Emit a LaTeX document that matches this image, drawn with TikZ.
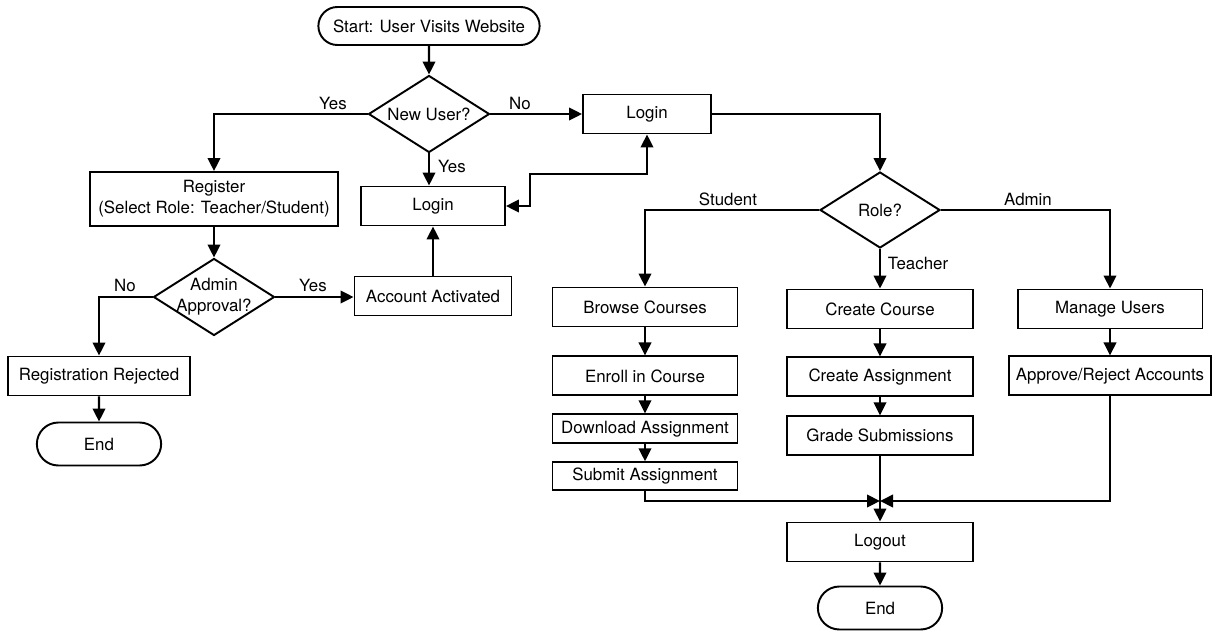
\documentclass[tikz,border=0pt]{standalone}
\usepackage{fontspec}
\setmainfont{TeX Gyre Heros}
\usetikzlibrary{arrows.meta,positioning,shapes.geometric,shapes.misc}
\newcommand{\fsz}{\fontsize{9.6}{12}\selectfont}
\tikzset{
 box/.style={draw,line width=1.1pt,align=center,minimum height=0.78cm,
             font=\fsz,inner sep=2pt},
 term/.style={draw,line width=1.1pt,rounded rectangle,minimum height=0.86cm,
              font=\fsz},
 decide/.style={draw,line width=1.1pt,diamond,aspect=1.57,inner sep=0pt,
                minimum width=2.42cm,minimum height=1.54cm,font=\fsz,align=center},
 arrow/.style={->,line width=1.2pt},
 dblarrow/.style={<->,line width=1.2pt},
 lbl/.style={font=\fsz,inner sep=1pt},
 >={Triangle[length=2.6mm,width=2.5mm]},
}

\begin{document}
\begin{tikzpicture}[x=0.02cm,y=-0.02cm,node distance=0.54cm]
\useasboundingbox[fill=white] (0,0) rectangle (1213,632);

% entry
\node[term,minimum width=4.66cm,minimum height=0.76cm] (start) at (429,26) {Start: User Visits Website};
\node[decide] (newuser) at (429,114) {New User?};
\node[box,minimum width=2.56cm] (login) at (647,114) {Login};
\node[box,minimum width=2.88cm] (relogin) at (433,206) {Login};

% registration
\node[box,minimum width=4.96cm,minimum height=1.08cm] (register) at (214,199) {Register\\(Select Role: Teacher/Student)};
\node[decide,inner sep=-3pt] (approval) at (214,297) {Admin\\Approval?};
\node[box,minimum width=3.64cm] (rejected) at (99,376) {Registration Rejected};
\node[term,minimum width=2.72cm] (endreg) at (99,444) {End};
\node[box,minimum width=3.14cm] (activated) at (433,296) {Account Activated};

% roles
\node[decide,minimum width=2.4cm,minimum height=1.52cm] (role) at (880,210) {Role?};

% student
\node[box,minimum width=3.7cm] (browse) at (645,307) {Browse Courses};
\node[box,minimum width=3.7cm,below=0.56cm of browse] (enroll) {Enroll in Course};
\node[box,minimum width=3.7cm,minimum height=0.58cm,below=0.34cm of enroll] (download) {Download Assignment};
\node[box,minimum width=3.7cm,minimum height=0.56cm,below=0.34cm of download] (submit) {Submit Assignment};

% teacher
\node[box,minimum width=3.72cm] (mkcourse) at (880,309) {Create Course};
\node[box,minimum width=3.72cm,below=of mkcourse] (mkassign) {Create Assignment};
\node[box,minimum width=3.72cm,below=0.36cm of mkassign] (grade) {Grade Submissions};

% admin
\node[box,minimum width=3.7cm] (manage) at (1110,309) {Manage Users};
\node[box,minimum width=4.04cm,below=0.52cm of manage] (approve) {Approve/Reject Accounts};

% exit
\coordinate (merge) at (880,501);
\coordinate (loop) at (530,174);
\node[box,minimum width=3.72cm] (logout) at (880,542) {Logout};
\node[term,minimum width=2.72cm] (endlast) at (880,608) {End};

% labels
\node[lbl] (yesreg) at (333,103) {Yes};
\node[lbl] (nologin) at (520,103) {No};
\node[lbl] (yeslogin) at (452,166) {Yes};
\node[lbl] (norej) at (125,285) {No};
\node[lbl] (yesact) at (313,285) {Yes};
\node[lbl] (lstudent) at (728,199) {Student};
\node[lbl] (ladmin) at (1028,199) {Admin};
\node[lbl] (lteacher) at (918,263) {Teacher};

\draw[arrow] (start) -- (newuser);
\draw[arrow] (newuser.west) -| (register.north);
\draw[arrow] (newuser) -- (login);
\draw[arrow] (newuser.south) -- (newuser.south |- relogin.north);
\draw[dblarrow] (relogin.east) -| (loop) -| (login.south);
\draw[arrow] (register) -- (approval);
\draw[arrow] (approval.west) -| (rejected.north);
\draw[arrow] (approval.east) -- (approval.east -| activated.west);
\draw[arrow] (activated) -- (relogin);
\draw[arrow] (rejected) -- (endreg);
\draw[arrow] (login.east) -| (role.north);
\draw[arrow] (role.west) -| (browse.north);
\draw[arrow] (role.east) -| (manage.north);
\draw[arrow] (role) -- (mkcourse);
\draw[arrow] (browse) -- (enroll);
\draw[arrow] (enroll) -- (download);
\draw[arrow] (download) -- (submit);
\draw[arrow] (mkcourse) -- (mkassign);
\draw[arrow] (mkassign) -- (grade);
\draw[arrow] (manage) -- (approve);
\draw[arrow] (grade) -- (logout);
\draw[arrow] (submit.south) |- (merge);
\draw[arrow] (approve.south) |- (merge);
\draw[arrow] (logout) -- (endlast);
\end{tikzpicture}
\end{document}
